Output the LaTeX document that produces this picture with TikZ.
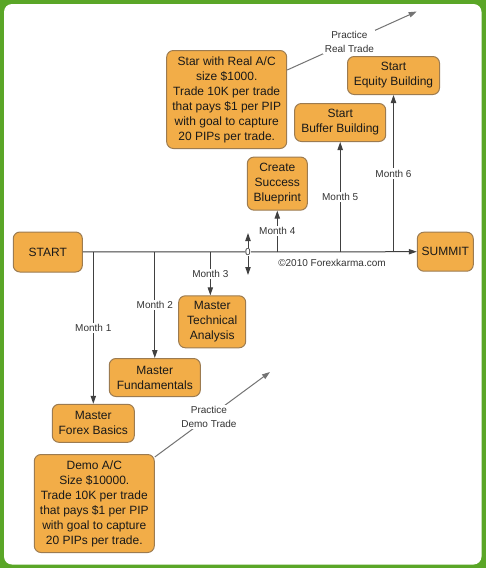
\documentclass[tikz,border=0pt]{standalone}
\usepackage{fontspec}
\setmainfont{Liberation Sans}
\usetikzlibrary{arrows.meta}
\definecolor{frame}{HTML}{5AA627}
\definecolor{boxfill}{HTML}{F2AD48}
\definecolor{boxline}{HTML}{9C7B50}
\definecolor{ink}{HTML}{404040}
\begin{document}
\begin{tikzpicture}[x=0.75pt,y=-0.75pt,
  stepbox/.style={draw=boxline, fill=boxfill, rounded corners=5pt, line width=0.75pt,
    align=center, inner sep=1pt, text=black!90, font=\fontsize{9}{11.25}\selectfont},
  arr/.style={draw=ink, line width=0.75pt, -{Triangle[length=6pt,width=4pt]}},
  lbl/.style={fill=white, inner sep=1pt, text=black!80, align=center,
    font=\fontsize{7.5}{10.5}\selectfont},
  practice/.style={draw=black!55, line width=0.75pt, -{Triangle[length=6pt,width=4pt]}}]
  % frame
  \fill[frame] (0,0) rectangle (486,568);
  \fill[white, rounded corners=6pt] (4,4) rectangle (481.5,564.5);
  % boxes
  \node[stepbox, minimum width=51.8pt, minimum height=30pt] (start) at (47.8,252) {START};
  \node[stepbox, minimum width=42pt, minimum height=29.3pt] (summit) at (445.3,251.7) {SUMMIT};
  \node[stepbox, minimum width=61.5pt, minimum height=28.5pt] (basics) at (93.3,423.3) {Master\\Forex Basics};
  \node[stepbox, minimum width=68.3pt, minimum height=28.5pt] (fund) at (154.8,377.5) {Master\\Fundamentals};
  \node[stepbox, minimum width=50.3pt, minimum height=39pt] (tech) at (212.2,321.8) {Master\\Technical\\Analysis};
  \node[stepbox, minimum width=45pt, minimum height=39.8pt] (blue) at (277.3,183.6) {Create\\Success\\Blueprint};
  \node[stepbox, minimum width=68.3pt, minimum height=28.5pt] (buffer) at (340.2,122.5) {Start\\Buffer Building};
  \node[stepbox, minimum width=69pt, minimum height=28.5pt] (equity) at (393.5,75.5) {Start\\Equity Building};
  \node[stepbox, minimum width=90pt, minimum height=73.5pt] (real) at (226.7,99.5)
    {Star with Real A/C\\size \$1000.\\Trade 10K per trade\\that pays \$1 per PIP\\with goal to capture\\20 PIPs per trade.};
  \node[stepbox, minimum width=90pt, minimum height=73.5pt] (demo) at (94.3,503.5)
    {Demo A/C\\Size \$10000.\\Trade 10K per trade\\that pays \$1 per PIP\\with goal to capture\\20 PIPs per trade.};
  % time line
  \draw[arr] (start) -- (summit);
  \draw[arr] (basics |- start) -- node[lbl] {Month 1} (basics);
  \draw[arr] (fund |- start) -- node[lbl] {Month 2} (fund);
  \draw[arr] ([xshift=-1.4pt]tech.north |- start) -- node[lbl] {Month 3} ([xshift=-1.4pt]tech.north);
  \draw[arr] (blue |- start) -- node[lbl] {Month 4} (blue);
  \draw[arr] (buffer |- start) -- node[lbl] {Month 5} (buffer);
  \draw[arr] (equity |- start) -- node[lbl] {Month 6} (equity);
  % zero mark
  \coordinate (zup) at (248,233);
  \coordinate (zdn) at (248,275);
  \draw[draw=ink, line width=0.75pt, {Triangle[length=6pt,width=4pt]}-{Triangle[length=6pt,width=4pt]}] (zup) -- (zdn);
  \node[lbl, inner sep=0.3pt] (zero) at (248,252) {0};
  \node[lbl, fill=none] (copy) at (332,262.5) {\textcopyright2010 Forexkarma.com};
  % practice
  \coordinate (demotip) at (270,372);
  \coordinate (realtip) at (416.7,11.5);
  \draw[practice] ([shift={(0,3)}]demo.north east) -- node[lbl, pos=0.47] {Practice\\Demo Trade} (demotip);
  \draw[practice] ([shift={(0,20)}]real.north east) -- node[lbl, pos=0.48] {Practice\\Real Trade} (realtip);
\end{tikzpicture}
\end{document}
